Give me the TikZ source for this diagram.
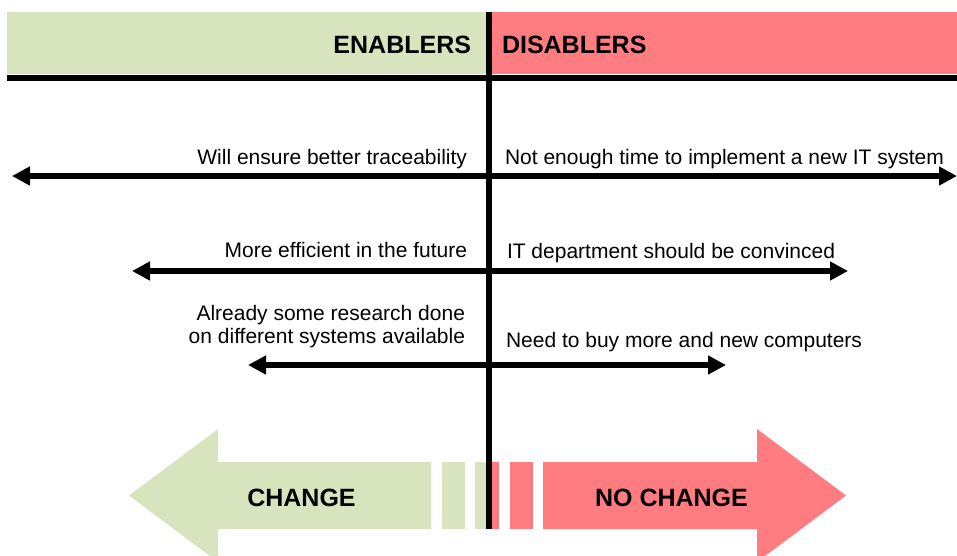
\documentclass[tikz,border=0pt]{standalone}
\usepackage{fontspec}
\setmainfont{Liberation Sans}
\usetikzlibrary{
arrows.meta,
calc,
positioning
}
\definecolor{enablergreen}{HTML}{D7E4BD}
\definecolor{disablerred}{HTML}{FF7C80}
\tikzset{>={Triangle[length=18pt,width=18pt]}}

\begin{document}
\begin{tikzpicture}[x=1pt, y=-1pt, every node/.style={inner sep=0, outer sep=0},
	header/.style={font=\fontsize{25}{28}\selectfont\bfseries},
	force/.style={font=\fontsize{21}{23}\selectfont},
	forceline/.style={<->, line width=6pt},
	axisline/.style={line width=6pt}]
		\useasboundingbox (0,0) rectangle (957,555);

		% header band.
		\fill[enablergreen] (7,12) rectangle (489,74);
		\fill[disablerred] (489,12) rectangle (957,74);
		\node[header, anchor=base east] (enablers) at (471,53) {ENABLERS};
		\node[header, anchor=base west] (disablers) at (502,53) {DISABLERS};

		\coordinate (headl) at (7,78);
		\coordinate (headr) at (957,78);
		\coordinate (axistop) at (488.5,12);
		\coordinate (axisbot) at (488.5,529);

		% big arrows.
		\fill[enablergreen] (129,495.5) -- (218,429) -- (218,462) -- (431,462) -- (431,529) -- (218,529) -- (218,562) -- cycle;
		\fill[enablergreen] (442,462) rectangle (465,529);
		\fill[enablergreen] (475,462) rectangle (489,529);
		\fill[disablerred] (489,462) rectangle (499,529);
		\fill[disablerred] (510,462) rectangle (533,529);
		\fill[disablerred] (846,495.5) -- (757,429) -- (757,462) -- (543,462) -- (543,529) -- (757,529) -- (757,562) -- cycle;
		\node[header, anchor=base] (change) at (301.5,506) {CHANGE};
		\node[header, anchor=base] (nochange) at (671.5,506) {NO CHANGE};

		% forces.
		\coordinate (pro1end) at (12,176);
		\coordinate (con1end) at (957,176);
		\coordinate (pro2end) at (132,271);
		\coordinate (con2end) at (848,271);
		\coordinate (pro3end) at (248,365);
		\coordinate (con3end) at (726,365);

		\node[force, anchor=base east] (pro1) at (467,164) {Will ensure better traceability};
		\node[force, anchor=base west] (con1) at (505,164) {Not enough time to implement a new IT system};
		\node[force, anchor=base east] (pro2) at (467,257) {More efficient in the future};
		\node[force, anchor=base west] (con2) at (507,258) {IT department should be convinced};
		\node[force, anchor=base east, align=right] (pro3) at (465,343) {Already some research done\\on different systems available};
		\node[force, anchor=base west] (con3) at (506,347) {Need to buy more and new computers};

		\draw[axisline] (headl) -- (headr);
		\draw[forceline] (pro1end) -- (con1end);
		\draw[forceline] (pro2end) -- (con2end);
		\draw[forceline] (pro3end) -- (con3end);
		\draw[axisline] (axistop) -- (axisbot);
	\end{tikzpicture}
\end{document}
